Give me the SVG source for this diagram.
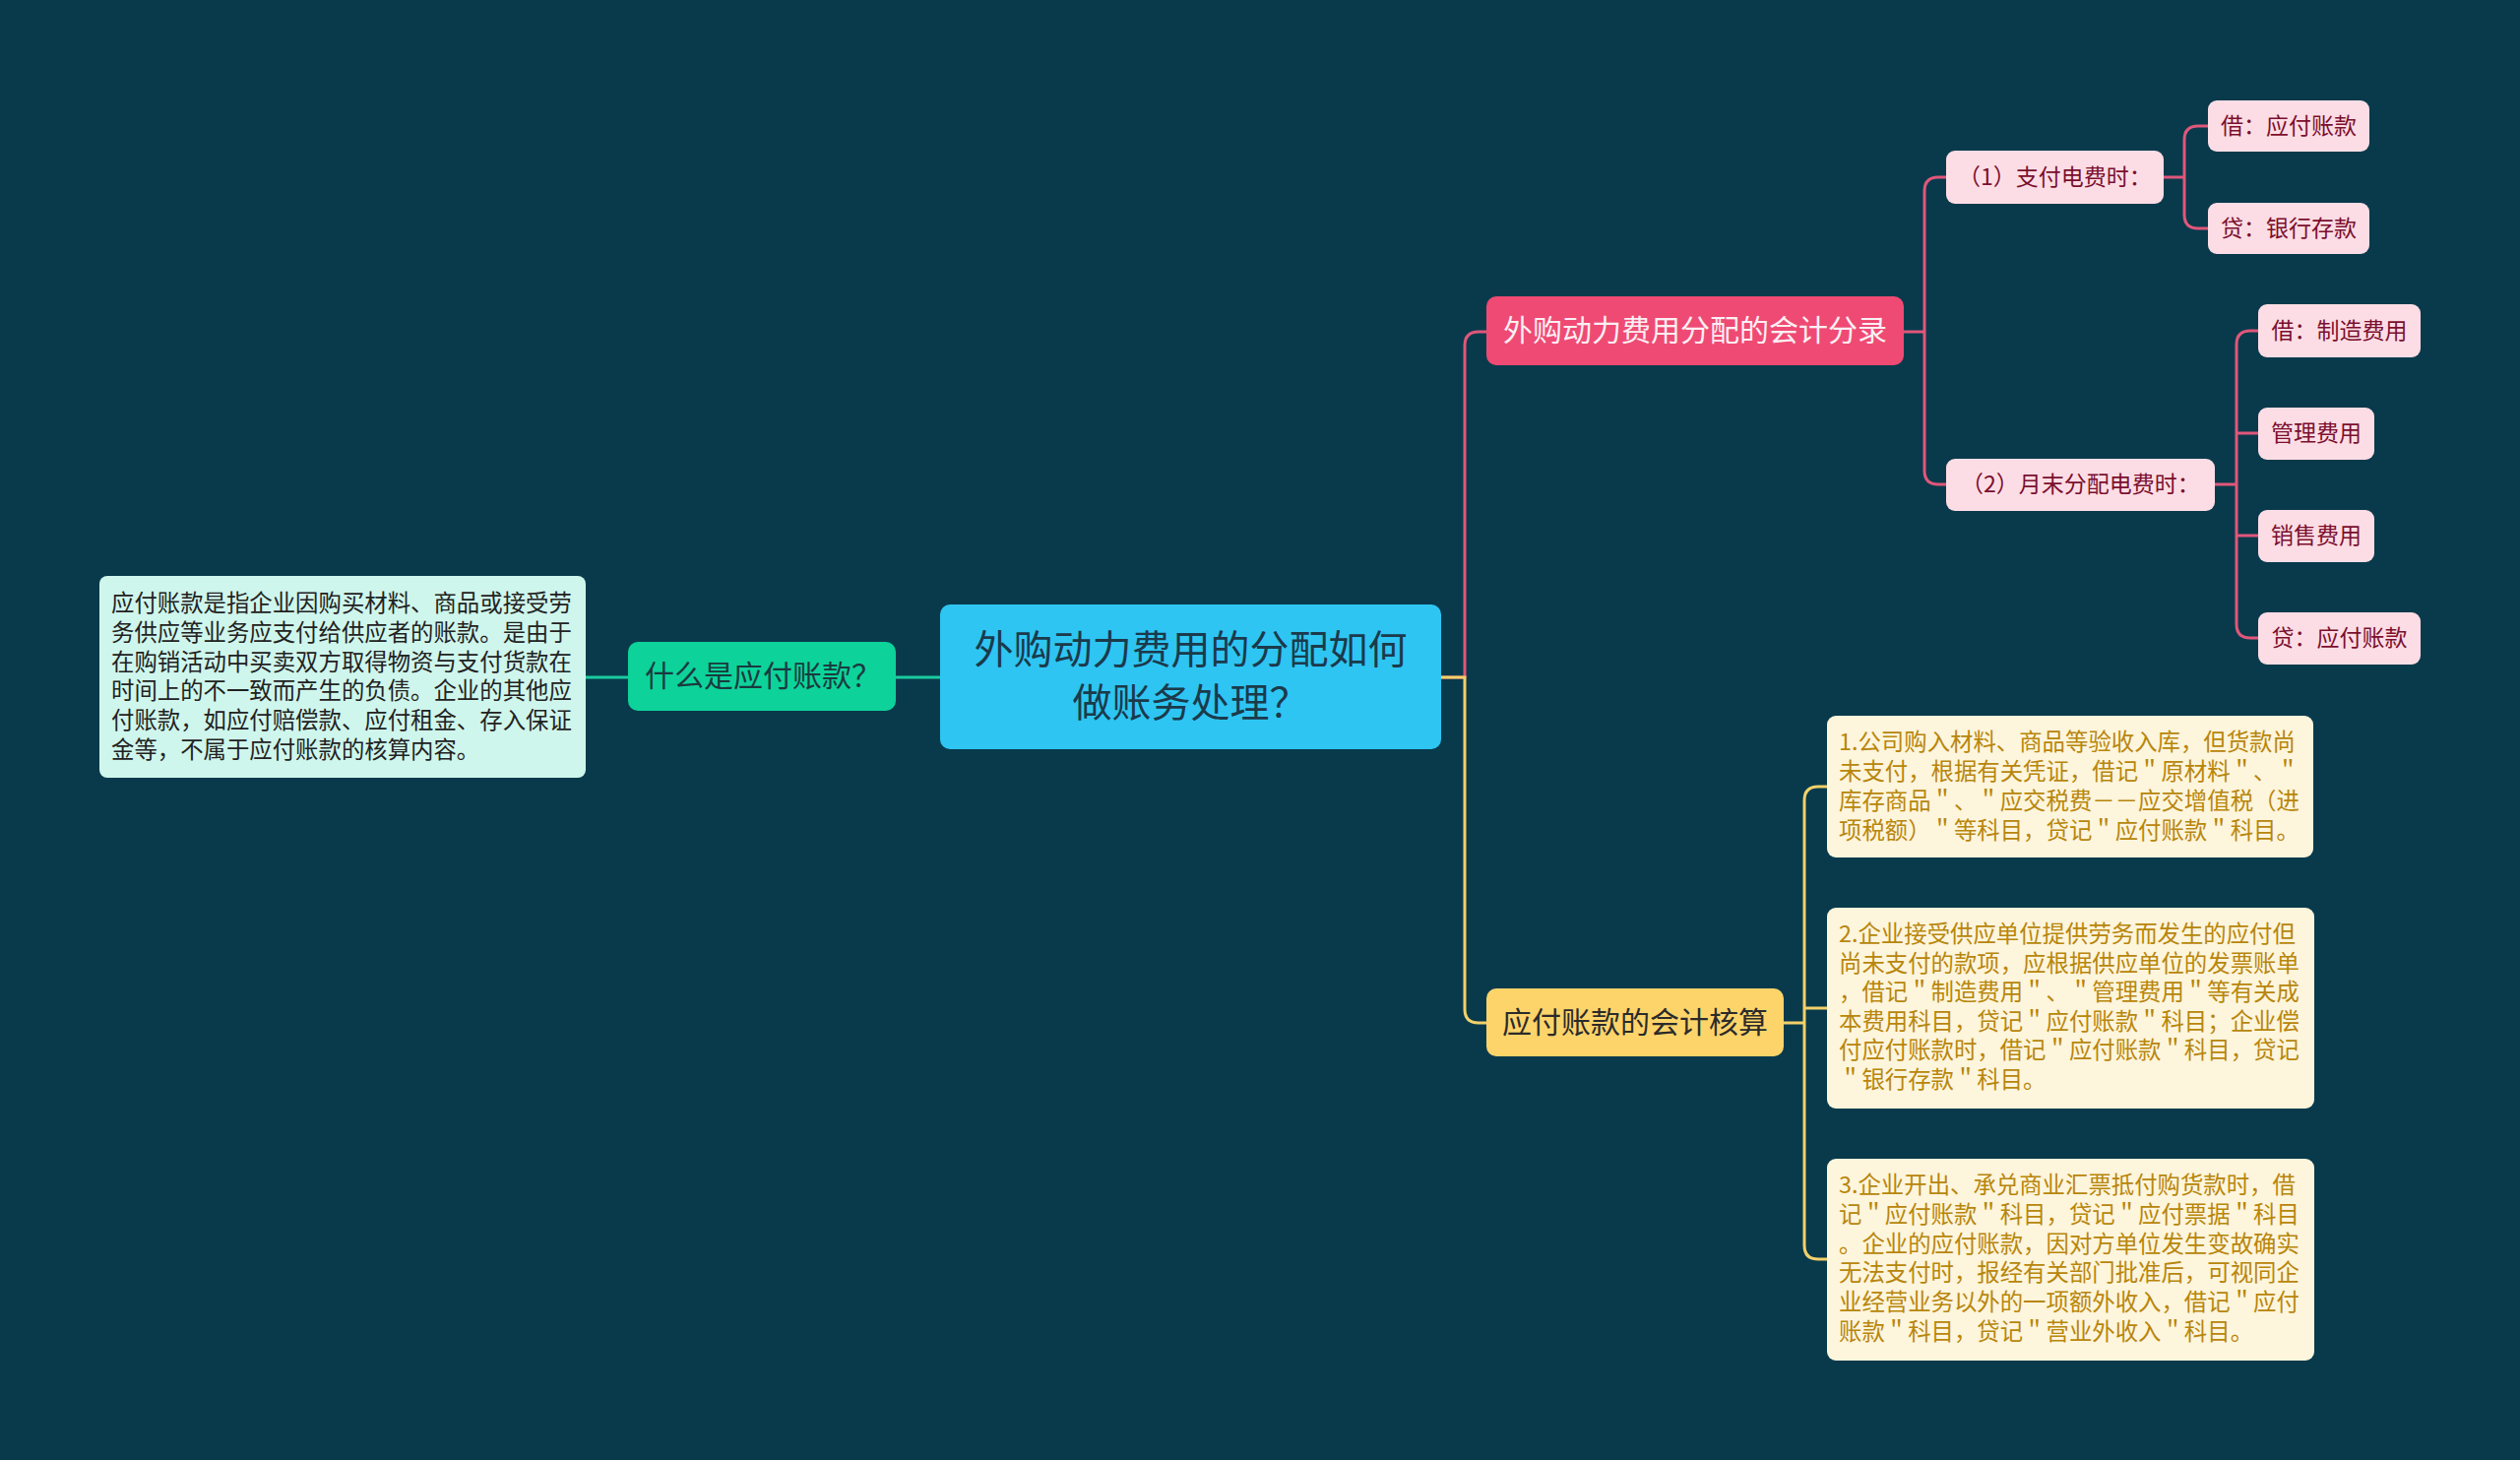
<svg xmlns="http://www.w3.org/2000/svg" width="2560" height="1483" viewBox="0 0 2560 1483">
<style>
text{font-family:"Noto Sans CJK SC","Noto Sans",sans-serif;dominant-baseline:central}
.c{text-anchor:middle}
.pk{fill:#FDDDE5}
.pkt{fill:#7B0F2E;font-size:23px}
.cr{fill:#FDF5DC}
.crt{fill:#B8860B;font-size:23.4px}
.ln{fill:none;stroke-width:3;stroke-linecap:round}
.lp{stroke:#E0577A}
.ly{stroke:#F3D06A}
.lg{stroke:#1CCB9F}
</style>
<rect width="2560" height="1483" fill="#083A4C"/>
<g id="connectors">
<path class="ln lg" d="M955,688 H910 M638,688 H595"/>
<path class="ln lp" d="M1464,688 H1488 V351 Q1488,337 1502,337 H1510"/>
<path class="ln ly" d="M1464,688 H1488 V1025 Q1488,1039 1502,1039 H1510"/>
<path class="ln lp" d="M1934,337 H1955 M1977,180 H1969 Q1955,180 1955,194 V478 Q1955,492 1969,492 H1977"/>
<path class="ln lp" d="M2198,180 H2219 M2243,128 H2233 Q2219,128 2219,142 V218 Q2219,232 2233,232 H2243"/>
<path class="ln lp" d="M2250,492 H2272 M2294,336 H2286 Q2272,336 2272,350 V634 Q2272,648 2286,648 H2294 M2272,440 H2294 M2272,544 H2294"/>
<path class="ln ly" d="M1812,1039 H1833 M1856,799 H1847 Q1833,799 1833,813 V1265 Q1833,1279 1847,1279 H1856 M1833,1024 H1856"/>
</g>
<g id="root">
<rect x="955" y="614" width="509" height="147" rx="10" fill="#2EC5F3"/>
<text class="c" x="1209.5" y="657" font-size="40" fill="#1B3A4B">外购动力费用的分配如何</text>
<text class="c" x="1209.5" y="711" font-size="40" fill="#1B3A4B">做账务处理？</text>
</g>
<g id="n-what">
<rect x="638" y="652" width="272" height="70" rx="10" fill="#0DD39A"/>
<text class="c" x="775" y="684" font-size="30" fill="#1A3A40">什么是应付账款？</text>
</g>
<g id="n-what-desc">
<rect x="101" y="585" width="494" height="205" rx="8" fill="#CFF6EC"/>
<g font-size="23.4" fill="#222222">
<text x="113" y="611">应付账款是指企业因购买材料、商品或接受劳</text>
<text x="113" y="640.8">务供应等业务应支付给供应者的账款。是由于</text>
<text x="113" y="670.6">在购销活动中买卖双方取得物资与支付货款在</text>
<text x="113" y="700.4">时间上的不一致而产生的负债。企业的其他应</text>
<text x="113" y="730.2">付账款，如应付赔偿款、应付租金、存入保证</text>
<text x="113" y="760">金等，不属于应付账款的核算内容。</text>
</g>
</g>
<g id="n-entry">
<rect x="1510" y="301" width="424" height="70" rx="10" fill="#EF4A73"/>
<text class="c" x="1722" y="333" font-size="30" fill="#FCEFF3">外购动力费用分配的会计分录</text>
</g>
<g id="n-pay">
<rect class="pk" x="1977" y="153" width="221" height="54" rx="9"/>
<text class="c pkt" x="2087.5" y="177.5">（1）支付电费时：</text>
</g>
<g id="n-pay-dr">
<rect class="pk" x="2243" y="102" width="164" height="52" rx="9"/>
<text class="c pkt" x="2325" y="125.5">借：应付账款</text>
</g>
<g id="n-pay-cr">
<rect class="pk" x="2243" y="206" width="164" height="52" rx="9"/>
<text class="c pkt" x="2325" y="229.5">贷：银行存款</text>
</g>
<g id="n-alloc">
<rect class="pk" x="1977" y="466" width="273" height="53" rx="9"/>
<text class="c pkt" x="2113.5" y="490">（2）月末分配电费时：</text>
</g>
<g id="n-alloc-1">
<rect class="pk" x="2294" y="309" width="165" height="54" rx="9"/>
<text class="c pkt" x="2376.5" y="333.5">借：制造费用</text>
</g>
<g id="n-alloc-2">
<rect class="pk" x="2294" y="414" width="118" height="53" rx="9"/>
<text class="c pkt" x="2353" y="438">管理费用</text>
</g>
<g id="n-alloc-3">
<rect class="pk" x="2294" y="518" width="118" height="53" rx="9"/>
<text class="c pkt" x="2353" y="542">销售费用</text>
</g>
<g id="n-alloc-4">
<rect class="pk" x="2294" y="622" width="165" height="53" rx="9"/>
<text class="c pkt" x="2376.5" y="646">贷：应付账款</text>
</g>
<g id="n-acct">
<rect x="1510" y="1004" width="302" height="69" rx="10" fill="#FCD46A"/>
<text class="c" x="1661" y="1035.5" font-size="30" fill="#2B2B2B">应付账款的会计核算</text>
</g>
<g id="n-acct-1">
<rect class="cr" x="1856" y="727" width="494" height="144" rx="9"/>
<text class="crt" x="1868" y="752">1.公司购入材料、商品等验收入库，但货款尚</text>
<text class="crt" x="1868" y="782">未支付，根据有关凭证，借记＂原材料＂、＂</text>
<text class="crt" x="1868" y="812">库存商品＂、＂应交税费－－应交增值税（进</text>
<text class="crt" x="1868" y="842">项税额）＂等科目，贷记＂应付账款＂科目。</text>
</g>
<g id="n-acct-2">
<rect class="cr" x="1856" y="922" width="495" height="204" rx="9"/>
<text class="crt" x="1868" y="947">2.企业接受供应单位提供劳务而发生的应付但</text>
<text class="crt" x="1868" y="976.5">尚未支付的款项，应根据供应单位的发票账单</text>
<text class="crt" x="1868" y="1006">，借记＂制造费用＂、＂管理费用＂等有关成</text>
<text class="crt" x="1868" y="1035.5">本费用科目，贷记＂应付账款＂科目；企业偿</text>
<text class="crt" x="1868" y="1065">付应付账款时，借记＂应付账款＂科目，贷记</text>
<text class="crt" x="1868" y="1094.5">＂银行存款＂科目。</text>
</g>
<g id="n-acct-3">
<rect class="cr" x="1856" y="1177" width="495" height="205" rx="9"/>
<text class="crt" x="1868" y="1202">3.企业开出、承兑商业汇票抵付购货款时，借</text>
<text class="crt" x="1868" y="1231.8">记＂应付账款＂科目，贷记＂应付票据＂科目</text>
<text class="crt" x="1868" y="1261.6">。企业的应付账款，因对方单位发生变故确实</text>
<text class="crt" x="1868" y="1291.4">无法支付时，报经有关部门批准后，可视同企</text>
<text class="crt" x="1868" y="1321.2">业经营业务以外的一项额外收入，借记＂应付</text>
<text class="crt" x="1868" y="1351">账款＂科目，贷记＂营业外收入＂科目。</text>
</g>
</svg>
